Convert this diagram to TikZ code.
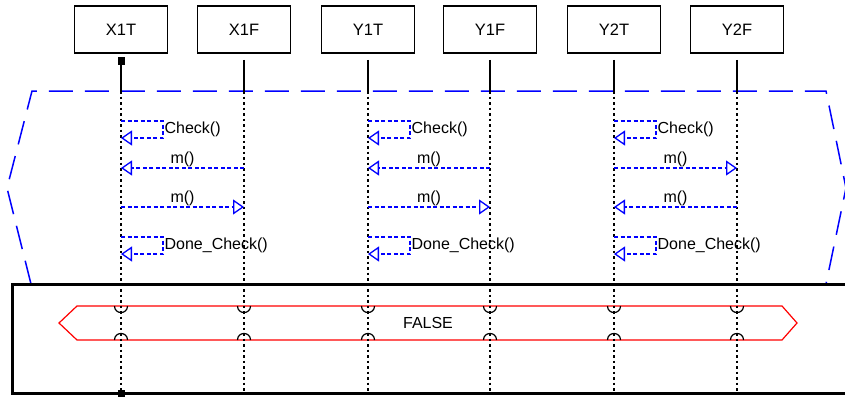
\documentclass[tikz,border=0pt]{standalone}
\usepackage{fontspec}
\setmainfont{Liberation Sans}
\usetikzlibrary{arrows.meta}
\begin{document}
\begin{tikzpicture}[x=1pt,y=-1pt,
  lifebox/.style={draw,line width=1.2pt,minimum width=93pt,minimum height=47pt,inner sep=0pt,font=\fontsize{16.5}{17}\selectfont},
  lifesolid/.style={line width=1.3pt},
  lifedot/.style={line width=1.2pt,dash pattern=on 2.5pt off 3pt},
  msg/.style={blue,line width=1.3pt,dash pattern=on 4pt off 2.5pt,-{Triangle[open,length=11pt,width=15pt,line width=1.3pt]}},
  msglabel/.style={text=black,font=\fontsize{16}{17}\selectfont,inner sep=1pt},
  frame/.style={blue,line width=1.5pt,dash pattern=on 24pt off 12pt},
  statebox/.style={red,line width=1.2pt},
  bigbox/.style={line width=3pt},
  semi/.style={line width=1.2pt},
  endsq/.style={fill=black,draw=none,minimum size=7pt,inner sep=0pt}]
\useasboundingbox (0,0) rectangle (845,396);
% lifeline heads
\foreach \n/\t/\x in {x1t/X1T/121, x1f/X1F/244, y1t/Y1T/368, y1f/Y1F/490, y2t/Y2T/614, y2f/Y2F/737} {
  \node[lifebox] (\n) at (\x,29.5) {\t};
  \coordinate (\n-top) at (\x,60);
  \coordinate (\n-fr) at (\x,91);
  \coordinate (\n-bot) at (\x,392);
  \coordinate (\n-c1) at (\x,121);
  \coordinate (\n-c2) at (\x,138);
  \coordinate (\n-a) at (\x,168);
  \coordinate (\n-b) at (\x,207);
  \coordinate (\n-d1) at (\x,237);
  \coordinate (\n-d2) at (\x,254);
  \coordinate (\n-s1) at (\x-6.5,306);
  \coordinate (\n-s1e) at (\x+6.5,306);
  \coordinate (\n-s2) at (\x-6.5,340);
  \coordinate (\n-s2e) at (\x+6.5,340);
}
% blue frame
\coordinate (fa) at (31,284);
\coordinate (fb) at (7,188);
\coordinate (fc) at (32,91);
\coordinate (fd) at (826,91);
\coordinate (fe) at (846,188);
\coordinate (ff) at (826,284);
\draw[frame] (fa) -- (fb) -- (fc) -- (fd) -- (fe) -- (ff);
% bottom box
\draw[bigbox] (848,284) -- (12,284) -- (12,393.5) -- (848,393.5);
% red state
\draw[statebox] (59,323) -- (77,306) -- (782,306) -- (797,323) -- (782,340) -- (77,340) -- cycle;
\node[font=\fontsize{16}{17}\selectfont] (st) at (428,323) {FALSE};
% lifelines
\foreach \n in {x1t,x1f,y1t,y1f,y2t,y2f} {
  \draw[lifesolid] (\n-top) -- (\n-fr);
  \draw[lifedot] (\n-fr) -- (\n-bot);
  \draw[semi] (\n-s1) .. controls +(0,8.7) and +(0,8.7) .. (\n-s1e);
  \draw[semi] (\n-s2) .. controls +(0,-8.7) and +(0,-8.7) .. (\n-s2e);
}
\node[endsq] (sq1) at (121,61) {};
\node[endsq] (sq2) at (121,393) {};
% messages
\foreach \p/\a/\b/\c/\d in {x1t/x1f/x1t/x1t/x1f, y1t/y1f/y1t/y1t/y1f, y2t/y2t/y2f/y2f/y2t} {
  \draw[msg] (\p-c1) -- ++(42,0) |- node[pos=0.25,right,msglabel] {Check()} (\p-c2);
  \draw[msg] (\a-a) -- node[above,msglabel] {m()} (\b-a);
  \draw[msg] (\c-b) -- node[above,msglabel] {m()} (\d-b);
  \draw[msg] (\p-d1) -- ++(42,0) |- node[pos=0.25,right,msglabel] {Done\_Check()} (\p-d2);
}
\end{tikzpicture}
\end{document}
